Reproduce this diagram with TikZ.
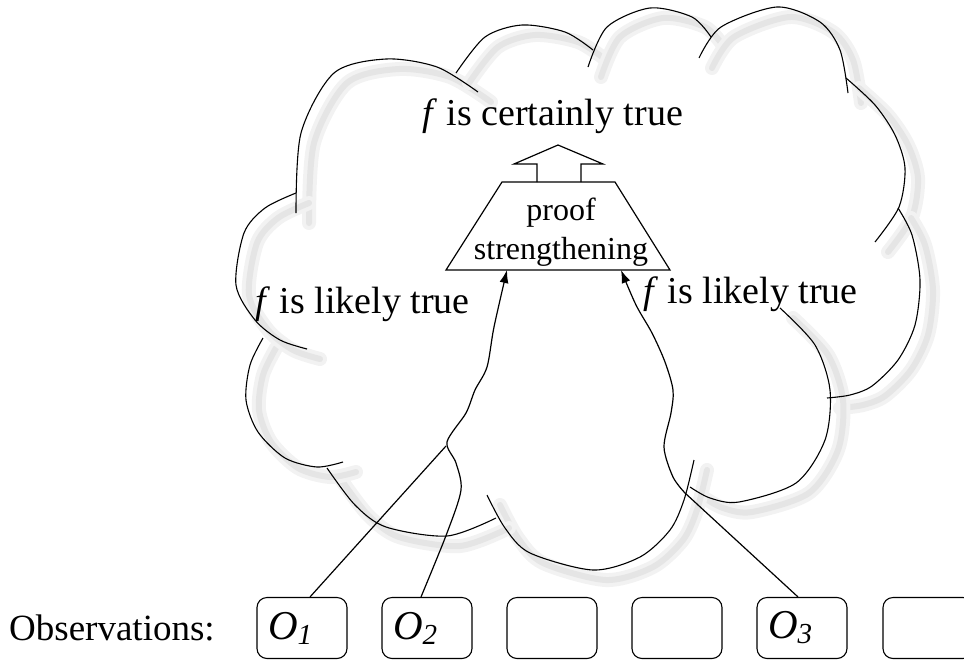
\documentclass[tikz,border=0pt]{standalone}
\usepackage{fontspec}
\setmainfont{Liberation Serif}
\usepackage{tikz}
\usetikzlibrary{arrows.meta,backgrounds}
\pgfdeclarelayer{background}
\pgfsetlayers{background,main}
\newcommand{\puff}[1]{%
  \begin{pgfonlayer}{background}
    \draw[puffhaze]  plot[smooth] coordinates {#1};
    \draw[puffshade] plot[smooth] coordinates {#1};
  \end{pgfonlayer}
  \draw[puff] plot[smooth] coordinates {#1};}
\newcommand{\obs}[1]{\hspace*{7pt}{\fontsize{41}{41}\selectfont\itshape O\raisebox{-5pt}{\fontsize{29}{29}\selectfont #1}}}

\begin{document}
\begin{tikzpicture}[x=1pt, y=-1pt,
  every node/.style={inner sep=0pt},
  puff/.style={line width=1.1pt},
  puffhaze/.style={line width=14pt, black!5, line cap=round, shift={(13,10)}},
  puffshade/.style={line width=6pt, black!10, line cap=round, shift={(13,10)}},
  bigtext/.style={font=\fontsize{38}{42}\selectfont, anchor=base west},
  obsbox/.style={draw, line width=1.1pt, rounded corners=10pt,
    text width=82pt, align=left, inner sep=4pt, minimum height=61pt},
  plain/.style={line width=1.2pt},
  feed/.style={line width=1.2pt, -{Latex[length=13pt,width=9pt]}},
]
\useasboundingbox (0,0) rectangle (964,662);

% cloud
\puff{(296,213) (301,133) (334,73) (386,59) (437,67) (478,92)}
\puff{(456,73) (485,37) (522,25) (565,32) (593,50)}
\puff{(588,67) (607,27) (650,8) (692,17) (711,37)}
\puff{(699,58) (721,27) (777,7) (820,22) (840,50) (848,93)}
\puff{(846,78) (875,105) (895,135) (905,168) (899,207) (875,242)}
\puff{(898,208) (912,235) (920,280) (915,325) (898,360) (872,386) (850,395) (827,398)}
\puff{(690,487) (710,498) (739,502) (796,483) (825,440) (830,390) (815,345) (780,308)}
\puff{(487,495) (505,528) (530,553) (593,570) (640,557) (670,530) (684,500) (694,460)}
\puff{(327,468) (355,505) (386,527) (447,536) (496,518)}
\puff{(263,338) (250,365) (246,400) (258,432) (285,458) (317,467) (343,462)}
\puff{(296,193) (265,208) (244,233) (236,285) (255,320) (280,340) (307,349)}

% proof strengthening
\draw[plain] (446,270) -- (670,270) -- (615,182) -- (502,182) -- cycle;
\draw[plain] (537,182) -- (537,164) -- (514,164) -- (558,145) -- (603,164) -- (581,164) -- (581,182);
\node[align=center, font=\fontsize{32}{39}\selectfont] (proof) at (561,232) {proof\\strengthening};
\coordinate (feedL) at (507,270);
\coordinate (feedR) at (621,270);

% labels
\node[bigtext] (certain) at (422,125) {\textit{f} is certainly true};
\node[bigtext] (likelyL) at (255,313) {\textit{f} is likely true};
\node[bigtext] (likelyR) at (643,303) {\textit{f} is likely true};
\node[bigtext, font=\fontsize{37}{40}\selectfont] (obslabel) at (9,640) {Observations:};

% observations
\node[obsbox] (obs1) at (302,628) {\obs{1}};
\node[obsbox] (obs2) at (427,628) {\obs{2}};
\node[obsbox] (obs3) at (552,628) {};
\node[obsbox] (obs4) at (677,628) {};
\node[obsbox] (obs5) at (802,628) {\obs{3}};
\node[obsbox] (obs6) at (928,628) {};

% connectors
\coordinate (mergeL) at (446,446);
\coordinate (bendR) at (685,493);
\draw[plain] ([xshift=8pt]obs1.north) -- (mergeL);
\draw[feed] plot[smooth] coordinates {([xshift=-6pt]obs2.north) (447,533) (461,490) (456,463) (447,442) (466,413) (475,390) (487,367) (494,327) (feedL)};
\draw[feed] ([xshift=-4pt]obs5.north) -- (bendR) -- plot[smooth] coordinates {(bendR) (673,477) (664,447) (671,413) (673,390) (665,362) (652,333) (636,305) (feedR)};
\end{tikzpicture}
\end{document}
